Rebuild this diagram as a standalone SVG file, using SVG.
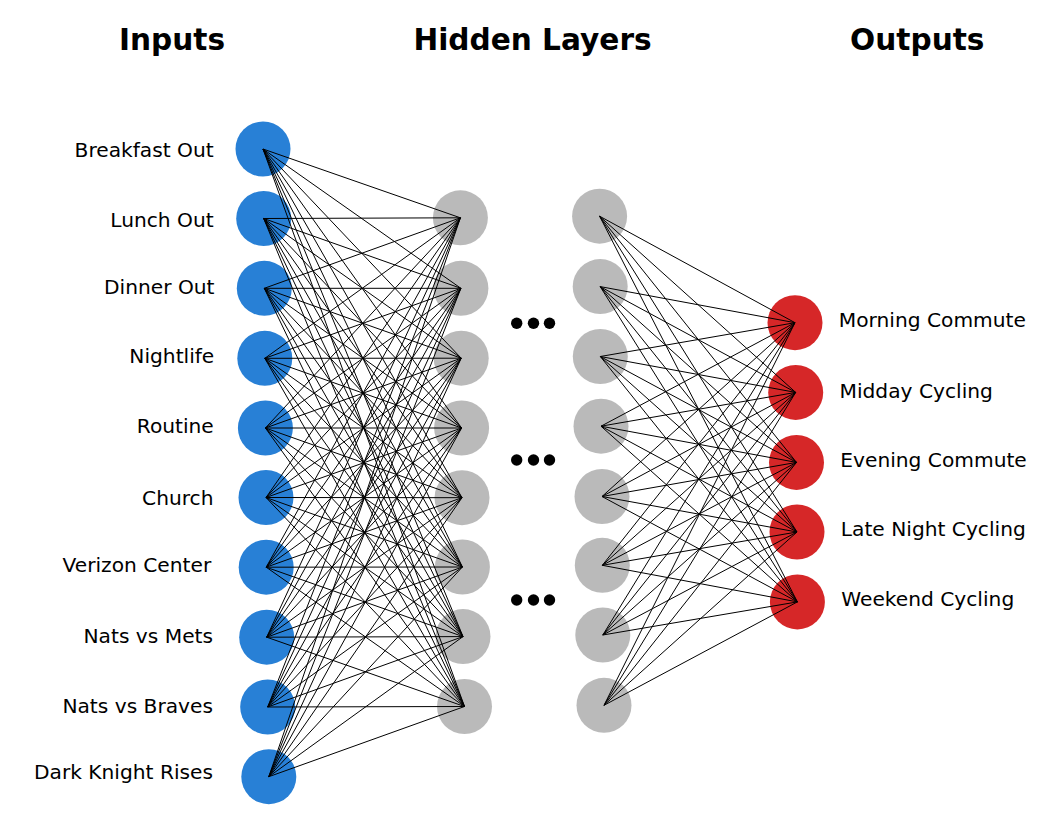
<svg xmlns="http://www.w3.org/2000/svg" width="1061" height="834" viewBox="0 0 1061 834">
<style>
.title{font-family:"DejaVu Sans","Liberation Sans",sans-serif;font-weight:bold;font-size:29.6px;fill:#000;text-anchor:middle}
.lbl{font-family:"DejaVu Sans","Liberation Sans",sans-serif;font-size:20.2px;fill:#000}
.lin{text-anchor:end}
.in{fill:#2880d6}
.hid{fill:#bababa}
.out{fill:#d62728}
.dot{fill:#000}
#connectors line{stroke:#000;stroke-width:1}
</style>
<rect width="1061" height="834" fill="#fff"/>
<g id="titles">
<text class="title" x="172" y="50">Inputs</text>
<text class="title" x="532.5" y="50">Hidden Layers</text>
<text class="title" x="917.3" y="49.5">Outputs</text>
</g>
<g id="input-nodes">
<g id="in1"><circle class="in" cx="263" cy="149" r="27.5"/><text class="lbl lin" x="213.7" y="157.3">Breakfast Out</text></g>
<g id="in2"><circle class="in" cx="263.7" cy="218.5" r="27.5"/><text class="lbl lin" x="213.7" y="227.3">Lunch Out</text></g>
<g id="in3"><circle class="in" cx="264.3" cy="288.3" r="27.5"/><text class="lbl lin" x="214.5" y="294.3">Dinner Out</text></g>
<g id="in4"><circle class="in" cx="264.8" cy="358.3" r="27.5"/><text class="lbl lin" x="214.3" y="363.3">Nightlife</text></g>
<g id="in5"><circle class="in" cx="265.4" cy="428" r="27.5"/><text class="lbl lin" x="213.8" y="433.3">Routine</text></g>
<g id="in6"><circle class="in" cx="266" cy="497.5" r="27.5"/><text class="lbl lin" x="213.5" y="505">Church</text></g>
<g id="in7"><circle class="in" cx="266.2" cy="567.2" r="27.5"/><text class="lbl lin" x="211.2" y="571.7">Verizon Center</text></g>
<g id="in8"><circle class="in" cx="266.7" cy="637.2" r="27.5"/><text class="lbl lin" x="213" y="642.7">Nats vs Mets</text></g>
<g id="in9"><circle class="in" cx="267.7" cy="707" r="27.5"/><text class="lbl lin" x="213" y="713.3">Nats vs Braves</text></g>
<g id="in10"><circle class="in" cx="268.8" cy="776.7" r="27.5"/><text class="lbl lin" x="213" y="779.3">Dark Knight Rises</text></g>
</g>
<g id="hidden-layer-1">
<g id="h1"><circle class="hid" cx="460.4" cy="217.8" r="27.5"/></g>
<g id="h2"><circle class="hid" cx="460.9" cy="288.3" r="27.5"/></g>
<g id="h3"><circle class="hid" cx="461.2" cy="358.2" r="27.5"/></g>
<g id="h4"><circle class="hid" cx="461.6" cy="428" r="27.5"/></g>
<g id="h5"><circle class="hid" cx="462" cy="497.7" r="27.5"/></g>
<g id="h6"><circle class="hid" cx="462.4" cy="567" r="27.5"/></g>
<g id="h7"><circle class="hid" cx="463" cy="636.6" r="27.5"/></g>
<g id="h8"><circle class="hid" cx="464.5" cy="706.5" r="27.5"/></g>
</g>
<g id="hidden-layer-2">
<g id="g1"><circle class="hid" cx="599.6" cy="216.2" r="27.5"/></g>
<g id="g2"><circle class="hid" cx="600.2" cy="286.6" r="27.5"/></g>
<g id="g3"><circle class="hid" cx="600.3" cy="356.5" r="27.5"/></g>
<g id="g4"><circle class="hid" cx="601" cy="426.2" r="27.5"/></g>
<g id="g5"><circle class="hid" cx="602" cy="496.5" r="27.5"/></g>
<g id="g6"><circle class="hid" cx="602.3" cy="565.3" r="27.5"/></g>
<g id="g7"><circle class="hid" cx="602.8" cy="635" r="27.5"/></g>
<g id="g8"><circle class="hid" cx="604" cy="705.3" r="27.5"/></g>
</g>
<g id="output-nodes">
<g id="o1"><circle class="out" cx="795" cy="322.7" r="27.5"/><text class="lbl" x="838.8" y="327.3">Morning Commute</text></g>
<g id="o2"><circle class="out" cx="795.7" cy="392.4" r="27.5"/><text class="lbl" x="839.5" y="397.7">Midday Cycling</text></g>
<g id="o3"><circle class="out" cx="796.5" cy="462.4" r="27.5"/><text class="lbl" x="840.3" y="467.3">Evening Commute</text></g>
<g id="o4"><circle class="out" cx="797" cy="532" r="27.5"/><text class="lbl" x="840.8" y="536">Late Night Cycling</text></g>
<g id="o5"><circle class="out" cx="797.4" cy="601.9" r="27.5"/><text class="lbl" x="841.2" y="606">Weekend Cycling</text></g>
</g>
<g id="ellipsis">
<circle class="dot" cx="516.7" cy="323.3" r="5.7"/><circle class="dot" cx="533.5" cy="323.3" r="5.7"/><circle class="dot" cx="549.5" cy="323.3" r="5.7"/>
<circle class="dot" cx="516.7" cy="460" r="5.7"/><circle class="dot" cx="533.5" cy="460" r="5.7"/><circle class="dot" cx="549.5" cy="460" r="5.7"/>
<circle class="dot" cx="516.7" cy="600" r="5.7"/><circle class="dot" cx="533.5" cy="600" r="5.7"/><circle class="dot" cx="549.5" cy="600" r="5.7"/>
</g>
<g id="connectors">
<line x1="263" y1="149" x2="460.4" y2="217.8"/><line x1="263" y1="149" x2="460.9" y2="288.3"/><line x1="263" y1="149" x2="461.2" y2="358.2"/><line x1="263" y1="149" x2="461.6" y2="428"/><line x1="263" y1="149" x2="462" y2="497.7"/><line x1="263" y1="149" x2="462.4" y2="567"/><line x1="263" y1="149" x2="463" y2="636.6"/><line x1="263" y1="149" x2="464.5" y2="706.5"/>
<line x1="263.7" y1="218.5" x2="460.4" y2="217.8"/><line x1="263.7" y1="218.5" x2="460.9" y2="288.3"/><line x1="263.7" y1="218.5" x2="461.2" y2="358.2"/><line x1="263.7" y1="218.5" x2="461.6" y2="428"/><line x1="263.7" y1="218.5" x2="462" y2="497.7"/><line x1="263.7" y1="218.5" x2="462.4" y2="567"/><line x1="263.7" y1="218.5" x2="463" y2="636.6"/><line x1="263.7" y1="218.5" x2="464.5" y2="706.5"/>
<line x1="264.3" y1="288.3" x2="460.4" y2="217.8"/><line x1="264.3" y1="288.3" x2="460.9" y2="288.3"/><line x1="264.3" y1="288.3" x2="461.2" y2="358.2"/><line x1="264.3" y1="288.3" x2="461.6" y2="428"/><line x1="264.3" y1="288.3" x2="462" y2="497.7"/><line x1="264.3" y1="288.3" x2="462.4" y2="567"/><line x1="264.3" y1="288.3" x2="463" y2="636.6"/><line x1="264.3" y1="288.3" x2="464.5" y2="706.5"/>
<line x1="264.8" y1="358.3" x2="460.4" y2="217.8"/><line x1="264.8" y1="358.3" x2="460.9" y2="288.3"/><line x1="264.8" y1="358.3" x2="461.2" y2="358.2"/><line x1="264.8" y1="358.3" x2="461.6" y2="428"/><line x1="264.8" y1="358.3" x2="462" y2="497.7"/><line x1="264.8" y1="358.3" x2="462.4" y2="567"/><line x1="264.8" y1="358.3" x2="463" y2="636.6"/><line x1="264.8" y1="358.3" x2="464.5" y2="706.5"/>
<line x1="265.4" y1="428" x2="460.4" y2="217.8"/><line x1="265.4" y1="428" x2="460.9" y2="288.3"/><line x1="265.4" y1="428" x2="461.2" y2="358.2"/><line x1="265.4" y1="428" x2="461.6" y2="428"/><line x1="265.4" y1="428" x2="462" y2="497.7"/><line x1="265.4" y1="428" x2="462.4" y2="567"/><line x1="265.4" y1="428" x2="463" y2="636.6"/><line x1="265.4" y1="428" x2="464.5" y2="706.5"/>
<line x1="266" y1="497.5" x2="460.4" y2="217.8"/><line x1="266" y1="497.5" x2="460.9" y2="288.3"/><line x1="266" y1="497.5" x2="461.2" y2="358.2"/><line x1="266" y1="497.5" x2="461.6" y2="428"/><line x1="266" y1="497.5" x2="462" y2="497.7"/><line x1="266" y1="497.5" x2="462.4" y2="567"/><line x1="266" y1="497.5" x2="463" y2="636.6"/><line x1="266" y1="497.5" x2="464.5" y2="706.5"/>
<line x1="266.2" y1="567.2" x2="460.4" y2="217.8"/><line x1="266.2" y1="567.2" x2="460.9" y2="288.3"/><line x1="266.2" y1="567.2" x2="461.2" y2="358.2"/><line x1="266.2" y1="567.2" x2="461.6" y2="428"/><line x1="266.2" y1="567.2" x2="462" y2="497.7"/><line x1="266.2" y1="567.2" x2="462.4" y2="567"/><line x1="266.2" y1="567.2" x2="463" y2="636.6"/><line x1="266.2" y1="567.2" x2="464.5" y2="706.5"/>
<line x1="266.7" y1="637.2" x2="460.4" y2="217.8"/><line x1="266.7" y1="637.2" x2="460.9" y2="288.3"/><line x1="266.7" y1="637.2" x2="461.2" y2="358.2"/><line x1="266.7" y1="637.2" x2="461.6" y2="428"/><line x1="266.7" y1="637.2" x2="462" y2="497.7"/><line x1="266.7" y1="637.2" x2="462.4" y2="567"/><line x1="266.7" y1="637.2" x2="463" y2="636.6"/><line x1="266.7" y1="637.2" x2="464.5" y2="706.5"/>
<line x1="267.7" y1="707" x2="460.4" y2="217.8"/><line x1="267.7" y1="707" x2="460.9" y2="288.3"/><line x1="267.7" y1="707" x2="461.2" y2="358.2"/><line x1="267.7" y1="707" x2="461.6" y2="428"/><line x1="267.7" y1="707" x2="462" y2="497.7"/><line x1="267.7" y1="707" x2="462.4" y2="567"/><line x1="267.7" y1="707" x2="463" y2="636.6"/><line x1="267.7" y1="707" x2="464.5" y2="706.5"/>
<line x1="268.8" y1="776.7" x2="460.4" y2="217.8"/><line x1="268.8" y1="776.7" x2="460.9" y2="288.3"/><line x1="268.8" y1="776.7" x2="461.2" y2="358.2"/><line x1="268.8" y1="776.7" x2="461.6" y2="428"/><line x1="268.8" y1="776.7" x2="462" y2="497.7"/><line x1="268.8" y1="776.7" x2="462.4" y2="567"/><line x1="268.8" y1="776.7" x2="463" y2="636.6"/><line x1="268.8" y1="776.7" x2="464.5" y2="706.5"/>
<line x1="599.6" y1="216.2" x2="795" y2="322.7"/><line x1="599.6" y1="216.2" x2="795.7" y2="392.4"/><line x1="599.6" y1="216.2" x2="796.5" y2="462.4"/><line x1="599.6" y1="216.2" x2="797" y2="532"/><line x1="599.6" y1="216.2" x2="797.4" y2="601.9"/>
<line x1="600.2" y1="286.6" x2="795" y2="322.7"/><line x1="600.2" y1="286.6" x2="795.7" y2="392.4"/><line x1="600.2" y1="286.6" x2="796.5" y2="462.4"/><line x1="600.2" y1="286.6" x2="797" y2="532"/><line x1="600.2" y1="286.6" x2="797.4" y2="601.9"/>
<line x1="600.3" y1="356.5" x2="795" y2="322.7"/><line x1="600.3" y1="356.5" x2="795.7" y2="392.4"/><line x1="600.3" y1="356.5" x2="796.5" y2="462.4"/><line x1="600.3" y1="356.5" x2="797" y2="532"/><line x1="600.3" y1="356.5" x2="797.4" y2="601.9"/>
<line x1="601" y1="426.2" x2="795" y2="322.7"/><line x1="601" y1="426.2" x2="795.7" y2="392.4"/><line x1="601" y1="426.2" x2="796.5" y2="462.4"/><line x1="601" y1="426.2" x2="797" y2="532"/><line x1="601" y1="426.2" x2="797.4" y2="601.9"/>
<line x1="602" y1="496.5" x2="795" y2="322.7"/><line x1="602" y1="496.5" x2="795.7" y2="392.4"/><line x1="602" y1="496.5" x2="796.5" y2="462.4"/><line x1="602" y1="496.5" x2="797" y2="532"/><line x1="602" y1="496.5" x2="797.4" y2="601.9"/>
<line x1="602.3" y1="565.3" x2="795" y2="322.7"/><line x1="602.3" y1="565.3" x2="795.7" y2="392.4"/><line x1="602.3" y1="565.3" x2="796.5" y2="462.4"/><line x1="602.3" y1="565.3" x2="797" y2="532"/><line x1="602.3" y1="565.3" x2="797.4" y2="601.9"/>
<line x1="602.8" y1="635" x2="795" y2="322.7"/><line x1="602.8" y1="635" x2="795.7" y2="392.4"/><line x1="602.8" y1="635" x2="796.5" y2="462.4"/><line x1="602.8" y1="635" x2="797" y2="532"/><line x1="602.8" y1="635" x2="797.4" y2="601.9"/>
<line x1="604" y1="705.3" x2="795" y2="322.7"/><line x1="604" y1="705.3" x2="795.7" y2="392.4"/><line x1="604" y1="705.3" x2="796.5" y2="462.4"/><line x1="604" y1="705.3" x2="797" y2="532"/><line x1="604" y1="705.3" x2="797.4" y2="601.9"/>
</g>
</svg>
